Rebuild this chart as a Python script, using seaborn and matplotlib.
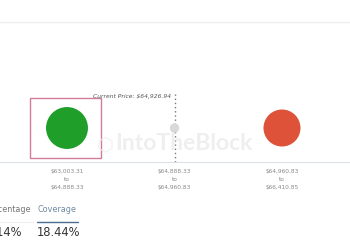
import matplotlib
matplotlib.use("Agg")
import matplotlib.pyplot as plt
import seaborn as sns
import pandas as pd
from matplotlib.patches import Rectangle

# ---- data ----
ranges = ["$63,003.31\nto\n$64,888.33", "$64,888.33\nto\n$64,960.83", "$64,960.83\nto\n$66,410.85"]
volumes = [45.6, 2.3, 35.5]          # relative bubble sizes (estimated)
colors = ["#1f9e2a", "#d9d9d9", "#dd5239"]
current_price_label = "Current Price: $64,926.94"
tab_labels = ["Percentage", "Coverage"]
tab_values = ["18.14%", "18.44%"]

df = pd.DataFrame({"x": [0, 1, 2], "y": [0.5] * 3, "vol": volumes, "range": ranges})

sns.set_theme(style="white")
plt.rcParams["font.family"] = ["DejaVu Sans"]

W, H = 350, 250
fig = plt.figure(figsize=(3.5, 2.5), dpi=100)
fig.patch.set_facecolor("white")

# main axes: bottom at 162 px, top at 94 px
ax = fig.add_axes([0, 1 - 162 / H, 1, (162 - 94) / H])
sp = 107.5
ax.set_xlim(-67 / sp, (W - 67) / sp)
ax.set_ylim(0, 1)

# watermark (behind everything)
fig.text(97 / W, 1 - 145 / H, "\u2b21", fontsize=14, color="#efefef", ha="left", va="center")
fig.text(115 / W, 1 - 144 / H, "IntoTheBlock", fontsize=16.5, fontweight="bold",
         family="Lato", color="#efefef", ha="left", va="center")

# circles
sns.scatterplot(data=df, x="x", y="y", size="vol", sizes=(min(volumes) * 20, max(volumes) * 20),
                hue="range", palette=colors, linewidth=0, legend=False, ax=ax, zorder=3)

# highlight box around the first bubble
ax.add_patch(Rectangle((-37 / sp, 0.06), 71 / sp, 0.88, fill=False, edgecolor="#d27c98",
                       linewidth=1.0, zorder=2))

# current price dotted line
ax.axvline(1.0, ymin=0, ymax=1.0, color="#777777", linestyle=(0, (1, 2)), linewidth=1.0,
           clip_on=False, zorder=1)
fig.text(171 / W, 1 - 96.5 / H, current_price_label, ha="right", va="center", fontsize=4.3,
         style="italic", color="#555555")

# axes styling
for s in ["top", "left", "right"]:
    ax.spines[s].set_visible(False)
ax.spines["bottom"].set_color("#dbe2ea")
ax.spines["bottom"].set_linewidth(0.8)
ax.set_yticks([])
ax.set_xticks(df["x"])
ax.set_xticklabels(df["range"], fontsize=4.2, color="#8a8a8a", linespacing=1.75)
ax.tick_params(axis="x", length=0, pad=5)
ax.set_xlabel("")
ax.set_ylabel("")
ax.set_facecolor("none")

# top separator line
fig.add_artist(plt.Line2D([0, 1], [1 - 22 / H, 1 - 22 / H], color="#eeeeee", linewidth=1.0))

# bottom tabs
fig.text(-15 / W, 1 - 210 / H, tab_labels[0], fontsize=5.8, color="#777777", ha="left", va="center")
fig.text(37 / W, 1 - 210 / H, tab_labels[1], fontsize=5.8, color="#6f8aa3", ha="left", va="center")
fig.add_artist(plt.Line2D([0, 33 / W], [1 - 222 / H] * 2, color="#eeeeee", linewidth=0.8))
fig.add_artist(plt.Line2D([37 / W, 78 / W], [1 - 222 / H] * 2, color="#4d6f8f", linewidth=1.0))
fig.text(-21 / W, 1 - 232 / H, tab_values[0], fontsize=8.3, color="#333333", ha="left", va="center")
fig.text(37 / W, 1 - 232 / H, tab_values[1], fontsize=8.3, color="#333333", ha="left", va="center")

fig.savefig("out.png", dpi=100, facecolor="white")
